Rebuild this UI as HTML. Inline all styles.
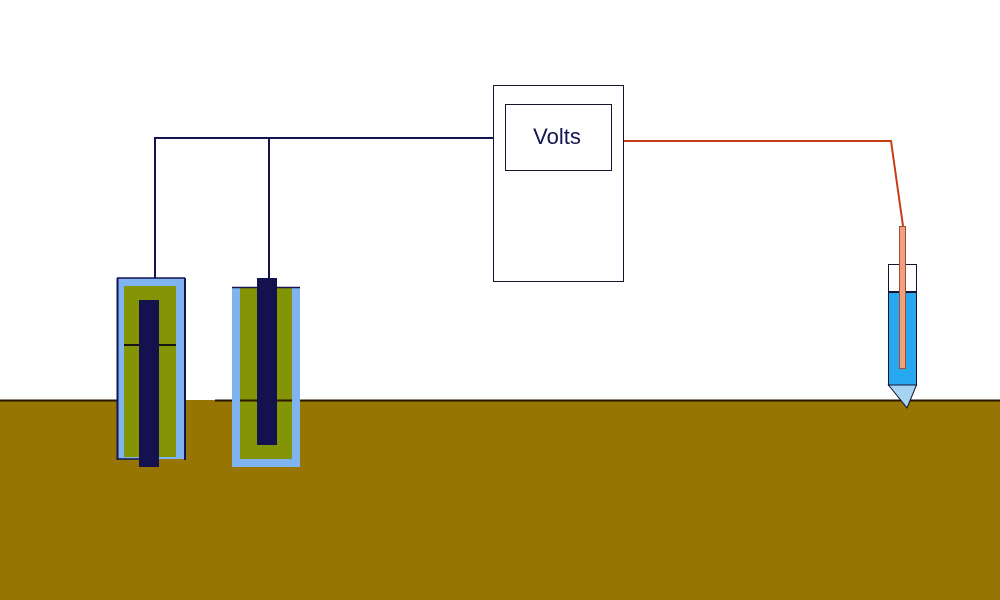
<!DOCTYPE html>
<html><head><style>body{margin:0;background:#fff}svg{display:block}</style></head><body>
<svg width="1000" height="600" viewBox="0 0 1000 600" xmlns="http://www.w3.org/2000/svg">
<rect x="0" y="0" width="1000" height="600" fill="#fff"/>
<rect x="0" y="400" width="1000" height="200" fill="#977503"/>
<line x1="0" y1="400.5" x2="117" y2="400.5" stroke="#2a1500" stroke-width="2"/>
<line x1="215" y1="400.5" x2="1000" y2="400.5" stroke="#2a1500" stroke-width="2"/>
<!-- wires -->
<polyline points="155,278 155,138 493,138" fill="none" stroke="#141450" stroke-width="2"/>
<line x1="269" y1="138" x2="269" y2="278" stroke="#141450" stroke-width="2"/>
<polyline points="623,141 891,141 903,226" fill="none" stroke="#c83c14" stroke-width="2"/>
<!-- volts -->
<rect x="493.5" y="85.5" width="130" height="196" fill="#fff" stroke="#141430" stroke-width="1"/>
<rect x="505.5" y="104.5" width="106" height="66" fill="#fff" stroke="#141430" stroke-width="1"/>
<text x="557" y="144" font-family="Liberation Sans, sans-serif" font-size="22" fill="#141450" text-anchor="middle">Volts</text>
<!-- left cell -->
<rect x="117" y="278" width="67" height="181" fill="#80b4f0"/>
<rect x="124" y="286" width="52" height="171" fill="#839405"/>
<line x1="117.5" y1="278" x2="117.5" y2="460" stroke="#141450" stroke-width="2"/>
<line x1="185" y1="278" x2="185" y2="460" stroke="#141450" stroke-width="2"/>
<line x1="117" y1="278" x2="185" y2="278" stroke="#141450" stroke-width="1.5"/>
<line x1="124" y1="345" x2="176" y2="345" stroke="#141414" stroke-width="2"/>
<line x1="117" y1="459" x2="140" y2="459" stroke="#141450" stroke-width="1.5"/>
<rect x="139" y="300" width="20" height="167" fill="#14124e"/>
<!-- right cell -->
<rect x="232" y="287" width="68" height="180" fill="#80b4f0"/>
<rect x="240" y="287" width="52" height="172" fill="#839405"/>
<line x1="232" y1="287.5" x2="300" y2="287.5" stroke="#141450" stroke-width="1.5"/>
<line x1="240" y1="400.5" x2="292" y2="400.5" stroke="#2a1500" stroke-width="2"/>
<rect x="257" y="278" width="20" height="167" fill="#14124e"/>
<!-- probe -->
<rect x="888.5" y="264.5" width="28" height="121" fill="#fff" stroke="#141430" stroke-width="1"/>
<rect x="889" y="292" width="28" height="93" fill="#28a8f0"/>
<line x1="888" y1="292" x2="917" y2="292" stroke="#141430" stroke-width="2"/>
<line x1="888.5" y1="292" x2="888.5" y2="385" stroke="#141430" stroke-width="1"/>
<line x1="916.5" y1="292" x2="916.5" y2="385" stroke="#141430" stroke-width="1"/>
<polygon points="888.5,385 916.5,385 907,408" fill="#a8d4f4" stroke="#141430" stroke-width="1"/>
<rect x="899.5" y="226.5" width="6" height="142" fill="#f0a080" stroke="#a05030" stroke-width="1"/>
</svg>
</body></html>
